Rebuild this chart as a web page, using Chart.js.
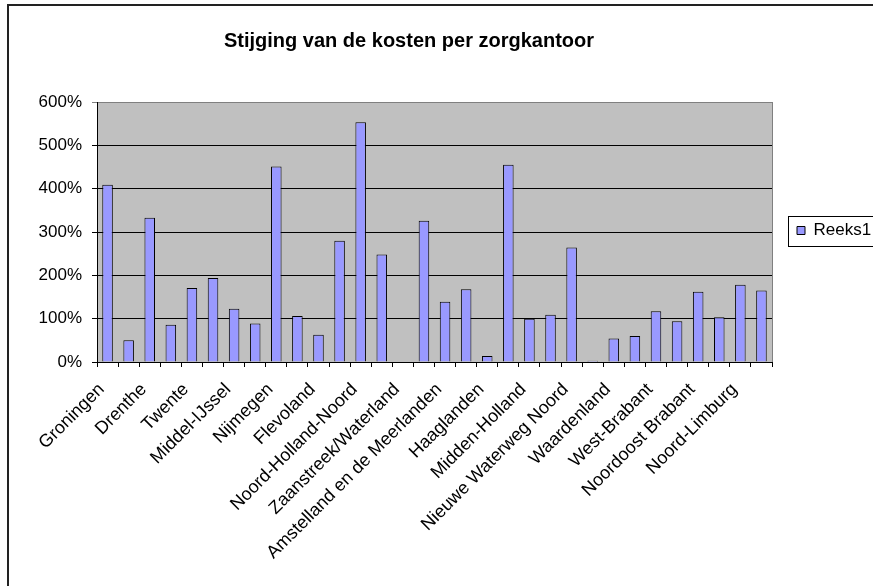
<!DOCTYPE html>
<html>
<head>
<meta charset="utf-8">
<script src="https://cdn.jsdelivr.net/npm/chart.js@4.4.1/dist/chart.umd.min.js"></script>
<style>
html, body { margin: 0; padding: 0; background: #fff; }
#wrap { width: 873px; height: 586px; position: relative; }
</style>
</head>
<body>
<div id="wrap"><canvas id="myChart"></canvas></div>
<script>
// zorgkantoren, only every other name is shown on the axis
const categories = [
    'Groningen', 'Friesland', 'Drenthe', 'Zwolle', 'Twente', 'Apeldoorn/Zutphen',
    'Middel-IJssel', 'Arnhem', 'Nijmegen', 'Utrecht', 'Flevoland', "'t Gooi",
    'Noord-Holland-Noord', 'Kennemerland', 'Zaanstreek/Waterland', 'Amsterdam',
    'Amstelland en de Meerlanden', 'Zuid-Holland Noord', 'Haaglanden', 'Delft Westland Oostland',
    'Midden-Holland', 'Rotterdam', 'Nieuwe Waterweg Noord', 'Zuid-Hollandse Eilanden',
    'Waardenland', 'Zeeland', 'West-Brabant', 'Midden-Brabant',
    'Noordoost Brabant', 'Zuidoost Brabant', 'Noord-Limburg', 'Zuid-Limburg'
];

// stijging in procenten
const reeks1 = [
    409, 50, 333, 86, 171, 194, 123, 89, 451, 106, 63, 280,
    553, 248, 0, 326, 139, 168, 14, 455, 100, 109, 264, 3,
    54, 60, 117, 94, 162, 103, 178, 165
];

const yTicks = [0, 100, 200, 300, 400, 500, 600];

const font = "'Liberation Sans', Arial, sans-serif";

const backdrop = {
    id: 'backdrop',
    afterLayout(chart) {
        // title is centred on the full chart object, which is wider than the visible part
        const t = chart.titleBlock;
        if (t) { t.left = 0; t.right = 818; t.width = 818; }
        // legend sits next to the plot, centred on it
        const lg = chart.legend;
        if (lg) { const h = lg.bottom - lg.top; lg.top = 197; lg.bottom = 197 + h; }
    },
    beforeDraw(chart) {
        const ctx = chart.ctx;
        const a = chart.chartArea;
        ctx.save();
        ctx.fillStyle = '#fff';
        ctx.fillRect(0, 0, chart.width, chart.height);
        // outer frame (left and top only, rest is cut off)
        ctx.strokeStyle = '#222';
        ctx.lineWidth = 2;
        ctx.beginPath();
        ctx.moveTo(8, chart.height);
        ctx.lineTo(8, 5);
        ctx.lineTo(chart.width, 5);
        ctx.stroke();
        // grey plot area
        ctx.fillStyle = '#C0C0C0';
        ctx.fillRect(a.left, a.top, a.right - a.left, a.bottom - a.top);
        ctx.restore();
    },
    beforeDatasetsDraw(chart) {
        const ctx = chart.ctx;
        const a = chart.chartArea;
        ctx.save();
        ctx.strokeStyle = '#808080';
        ctx.lineWidth = 1;
        ctx.beginPath();
        ctx.moveTo(a.right + 0.5, a.top);
        ctx.lineTo(a.right + 0.5, a.bottom);
        ctx.stroke();
        ctx.restore();
    },
    afterDraw(chart) {
        const lg = chart.legend;
        if (!lg || !lg.legendHitBoxes.length) return;
        const hb = lg.legendHitBoxes[0];
        const ctx = chart.ctx;
        const cy = hb.top + hb.height / 2;
        ctx.save();
        ctx.strokeStyle = '#000';
        ctx.lineWidth = 1;
        ctx.strokeRect(Math.round(hb.left - 9) + 0.5, Math.round(cy - 15) + 0.5, Math.round(hb.width + 12), 30);
        ctx.restore();
    }
};

const data = {
    labels: categories,
    datasets: [{
        label: 'Reeks1',
        data: reeks1,
        backgroundColor: '#9999FF',
        borderColor: '#000',
        borderWidth: 1,
        barPercentage: 0.5,
        categoryPercentage: 1
    }]
};

const config = {
    type: 'bar',
    data: data,
    plugins: [backdrop],
    options: {
        responsive: true,
        maintainAspectRatio: false,
        animation: false,
        layout: { padding: { left: 0, right: 0, top: 0, bottom: 0 } },
        plugins: {
            title: {
                display: true,
                text: 'Stijging van de kosten per zorgkantoor',
                color: '#000',
                font: { family: font, size: 20, weight: 'bold' },
                padding: { top: 29, bottom: 49 }
            },
            legend: {
                position: 'right',
                align: 'start',
                maxWidth: 101,
                labels: {
                    color: '#000',
                    font: { family: font, size: 17 },
                    boxWidth: 8,
                    boxHeight: 8,
                    padding: 25
                }
            },
            tooltip: { enabled: false }
        },
        scales: {
            x: {
                grid: {
                    drawOnChartArea: false,
                    drawTicks: true,
                    tickLength: 5,
                    color: '#000'
                },
                border: { color: '#000', width: 1 },
                ticks: {
                    autoSkip: false,
                    maxRotation: 45,
                    minRotation: 45,
                    color: '#000',
                    font: { family: font, size: 18 },
                    padding: 12,
                    labelOffset: -6,
                    callback: (v, i) => i % 2 === 0 ? categories[i] : ''
                },
                afterFit: (scale) => { scale.height = 224; }
            },
            y: {
                min: yTicks[0],
                max: yTicks[yTicks.length - 1],
                grid: {
                    color: (c) => c.tick && c.tick.value === 600 ? '#808080' : '#000',
                    tickLength: 5
                },
                border: { color: '#000', width: 1 },
                ticks: {
                    stepSize: 100,
                    color: '#000',
                    font: { family: font, size: 17 },
                    padding: 10,
                    callback: (v) => v + '%'
                },
                afterFit: (scale) => { scale.width = 97; }
            }
        }
    }
};

const myChart = new Chart(
    document.getElementById('myChart'),
    config
);
</script>
</body>
</html>
